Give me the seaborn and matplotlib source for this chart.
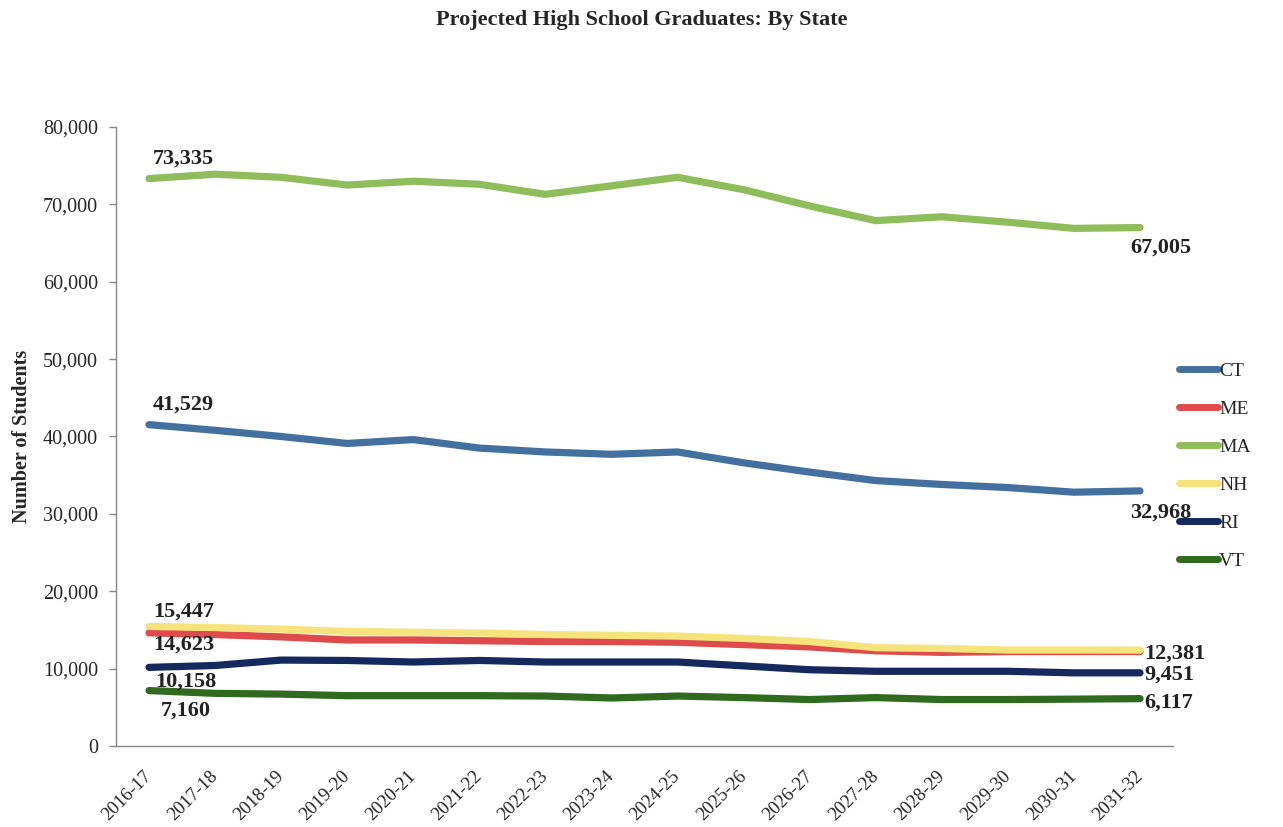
import matplotlib
matplotlib.use('Agg')
import matplotlib.pyplot as plt
import seaborn as sbs
import pandas as pd
import numpy as np

# school years on the x axis
years = ['2016-17', '2017-18', '2018-19', '2019-20', '2020-21', '2021-22', '2022-23', '2023-24',
         '2024-25', '2025-26', '2026-27', '2027-28', '2028-29', '2029-30', '2030-31', '2031-32']

# projected graduates per state
ct = [41529, 40800, 40000, 39100, 39600, 38500, 38000, 37700, 38000, 36600, 35400, 34300, 33800, 33400, 32800, 32968]
me = [14623, 14400, 14100, 13700, 13700, 13600, 13500, 13500, 13400, 13100, 12800, 12300, 12100, 12200, 12200, 12200]
ma = [73335, 73900, 73500, 72500, 73000, 72600, 71300, 72400, 73500, 71900, 69800, 67900, 68400, 67700, 66900, 67005]
nh = [15447, 15300, 15100, 14800, 14700, 14600, 14400, 14300, 14200, 13900, 13500, 12700, 12600, 12400, 12400, 12381]
ri = [10158, 10400, 11100, 11050, 10850, 11050, 10850, 10850, 10850, 10350, 9850, 9650, 9650, 9650, 9450, 9451]
vt = [7160, 6800, 6700, 6500, 6500, 6500, 6450, 6200, 6450, 6250, 6000, 6250, 6000, 6000, 6050, 6117]

states = ['CT', 'ME', 'MA', 'NH', 'RI', 'VT']
series = [ct, me, ma, nh, ri, vt]
colors = {'CT': '#44709f', 'ME': '#df4a4c', 'MA': '#8fbd5c', 'NH': '#f7e37c', 'RI': '#15295e', 'VT': '#2f6a1f'}

rows = []
for st, vals in zip(states, series):
    for i, v in enumerate(vals):
        rows.append({'idx': i, 'year': years[i], 'state': st, 'students': v})
df = pd.DataFrame(rows)

sbs.set_style('white')
plt.rcParams['font.family'] = ['Liberation Serif', 'DejaVu Serif']

fig = plt.figure(figsize=(12.83, 8.27), dpi=100)
ax = fig.add_axes([0.0904, 0.098, 0.8239, 0.7484])

sbs.lineplot(data=df, x='idx', y='students', hue='state', hue_order=states, palette=colors,
             linewidth=5.2, ax=ax, solid_capstyle='round')

ax.set_xlim(-0.5, len(years) - 0.5)
ax.set_ylim(0, 80000)
ax.set_yticks(np.arange(0, 80001, 10000))
ax.set_yticklabels([f'{int(v):,}' for v in np.arange(0, 80001, 10000)], fontsize=14.5)
ax.set_xticks(range(len(years)))
ax.set_xticklabels(years, rotation=45, ha='right', va='center', rotation_mode='anchor', fontsize=13.5)
ax.set_xticks(np.arange(-0.5, len(years)), minor=True)
ax.tick_params(axis='x', which='major', length=0, pad=20)
ax.tick_params(axis='x', which='minor', length=5, width=1, color='#888888', direction='out')
ax.tick_params(axis='y', length=5, width=1, color='#888888', left=True, pad=8)

for side in ['top', 'right']:
    ax.spines[side].set_visible(False)
for side in ['left', 'bottom']:
    ax.spines[side].set_color('#888888')
    ax.spines[side].set_linewidth(1)

ax.set_xlabel('')
ax.set_ylabel('Number of Students', fontsize=14.5, fontweight='bold', labelpad=8)
fig.suptitle('Projected High School Graduates: By State', fontsize=16, fontweight='bold', y=0.988)

# value labels at the start and end of the lines
lbl = dict(fontsize=16, fontweight='bold', textcoords='offset pixels', color='#222222')
last = len(years) - 1
ax.annotate(f'{ma[0]:,}', (0, ma[0]), xytext=(4, 10), ha='left', va='bottom', **lbl)
ax.annotate(f'{ct[0]:,}', (0, ct[0]), xytext=(4, 10), ha='left', va='bottom', **lbl)
ax.annotate(f'{nh[0]:,}', (0, nh[0]), xytext=(4, 5), ha='left', va='bottom', **lbl)
ax.annotate(f'{me[0]:,}', (0, me[0]), xytext=(4, -2), ha='left', va='top', **lbl)
ax.annotate(f'{ri[0]:,}', (0, ri[0]), xytext=(6, -4), ha='left', va='top', **lbl)
ax.annotate(f'{vt[0]:,}', (0, vt[0]), xytext=(12, -10), ha='left', va='top', **lbl)
ax.annotate(f'{ma[last]:,}', (last, ma[last]), xytext=(-10, -10), ha='left', va='top', **lbl)
ax.annotate(f'{ct[last]:,}', (last, ct[last]), xytext=(-10, -12), ha='left', va='top', **lbl)
ax.annotate(f'{nh[last]:,}', (last, nh[last]), xytext=(4, -3), ha='left', va='center', **lbl)
ax.annotate(f'{ri[last]:,}', (last, ri[last]), xytext=(4, -2), ha='left', va='center', **lbl)
ax.annotate(f'{vt[last]:,}', (last, vt[last]), xytext=(4, -4), ha='left', va='center', **lbl)

leg = ax.legend(loc='upper left', bbox_to_anchor=(0.919, 0.562), bbox_transform=fig.transFigure,
                frameon=False, fontsize=14, handlelength=2.0, handletextpad=0.05,
                labelspacing=1.05, borderaxespad=0, borderpad=0)
for h in leg.get_lines():
    h.set_linewidth(5)
    h.set_solid_capstyle('round')

fig.savefig('out.png', dpi=100)
